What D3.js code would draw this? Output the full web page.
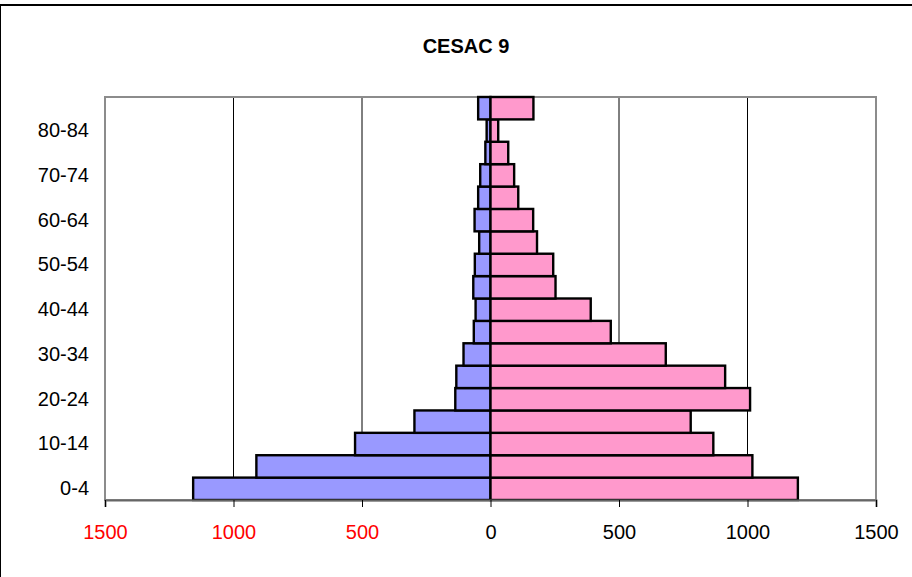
<!DOCTYPE html>
<html>
<head>
<meta charset="utf-8">
<script src="https://cdn.jsdelivr.net/npm/d3@7"></script>
<style>
  html, body { margin: 0; padding: 0; background: #fff; }
  svg { display: block; font-family: "Liberation Sans", Arial, sans-serif; }
</style>
</head>
<body>
<svg id="chart" width="912" height="577"></svg>
<script>
const title = "CESAC 9";
const ages = ["0-4","5-9","10-14","15-19","20-24","25-29","30-34","35-39","40-44",
              "45-49","50-54","55-59","60-64","65-69","70-74","75-79","80-84","85+"];
const male   = [1157, 911, 527, 296, 137, 133, 105, 65, 58, 67, 61, 44, 62, 48, 40, 20, 15, 48];
const female = [1196, 1019, 867, 779, 1010, 913, 682, 468, 390, 253, 244, 181, 166, 108, 92, 69, 30, 167];
const xTicks = [-1500, -1000, -500, 0, 500, 1000, 1500];
const gridVals = [-1000, -500, 500, 1000];

const svg = d3.select("#chart");
const plot = { left: 105, right: 876, top: 97, bottom: 500 };

// outer chart border
svg.append("rect")
  .attr("x", 0).attr("y", 5).attr("width", 1200).attr("height", 1200)
  .attr("fill", "#fff").attr("stroke", "#000").attr("stroke-width", 2);

const x = d3.scaleLinear().domain([-1500, 1500]).range([plot.left, plot.right]);
const y = d3.scaleBand().domain(ages.slice().reverse()).range([plot.top, plot.bottom]).padding(0);

// title
svg.append("text")
  .attr("x", 466).attr("y", 53)
  .attr("text-anchor", "middle")
  .attr("font-size", 20).attr("font-weight", "bold").attr("fill", "#000")
  .text(title);

// gridlines
svg.append("g").selectAll("line").data(gridVals).join("line")
  .attr("x1", d => x(d)).attr("x2", d => x(d))
  .attr("y1", plot.top).attr("y2", plot.bottom)
  .attr("stroke", "#000").attr("stroke-width", 1);

// plot frame
svg.append("rect")
  .attr("x", plot.left).attr("y", plot.top)
  .attr("width", plot.right - plot.left).attr("height", plot.bottom - plot.top)
  .attr("fill", "none").attr("stroke", "#8c8c8c").attr("stroke-width", 2);

const rows = ages.map((a, i) => ({ age: a, m: male[i], f: female[i] }));

// male bars (left)
svg.append("g").selectAll("rect").data(rows).join("rect")
  .attr("x", d => x(-d.m)).attr("y", d => y(d.age))
  .attr("width", d => x(0) - x(-d.m)).attr("height", y.bandwidth())
  .attr("fill", "#9999ff").attr("stroke", "#000").attr("stroke-width", 2.4);

// female bars (right)
svg.append("g").selectAll("rect").data(rows).join("rect")
  .attr("x", x(0)).attr("y", d => y(d.age))
  .attr("width", d => x(d.f) - x(0)).attr("height", y.bandwidth())
  .attr("fill", "#ff99cc").attr("stroke", "#000").attr("stroke-width", 2.4);

// x axis
const xAxis = d3.axisBottom(x).tickValues(xTicks).tickFormat(d => Math.abs(d)).tickSize(7).tickPadding(18);
const gx = svg.append("g").attr("transform", `translate(0,${plot.bottom})`).call(xAxis);
gx.select(".domain").attr("stroke", "#666").attr("stroke-width", 2);
gx.selectAll(".tick line").attr("stroke", "#000");
gx.selectAll(".tick text")
  .attr("font-size", 20).attr("font-family", "Liberation Sans, Arial, sans-serif")
  .attr("fill", d => d < 0 ? "#ff0000" : "#000");

// y labels (every other category)
const yAxis = d3.axisLeft(y).tickValues(ages.filter((a, i) => i % 2 === 0)).tickSize(0).tickPadding(16);
const gy = svg.append("g").attr("transform", `translate(${plot.left},0)`).call(yAxis);
gy.select(".domain").remove();
gy.selectAll(".tick text")
  .attr("font-size", 20).attr("font-family", "Liberation Sans, Arial, sans-serif")
  .attr("fill", "#000");
</script>
</body>
</html>
